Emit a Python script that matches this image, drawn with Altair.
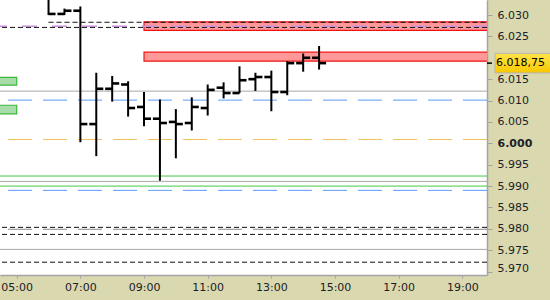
import altair as alt
import pandas as pd

# ---- data ----
bar_hours = [6.0, 6.5, 7.0, 7.5, 8.0, 8.5, 9.0, 9.5, 10.0, 10.5, 11.0, 11.5, 12.0, 12.5, 13.0, 13.5, 14.0, 14.5]
bar_open  = [6034.5, 6030.25, 6031.0, 6004.5, 6012.75, 6013.75, 6008.5, 6005.75, 6005.0, 6004.75, 6008.25, 6013.0, 6011.75, 6015.0, 6015.5, 6012.0, 6018.75, 6020.0]
bar_high  = [6035.0, 6031.5, 6032.0, 6016.5, 6015.75, 6014.5, 6012.0, 6010.25, 6008.0, 6010.75, 6013.75, 6014.25, 6018.0, 6016.5, 6017.0, 6019.25, 6021.0, 6022.75]
bar_low   = [6030.0, 6030.0, 6000.25, 5997.0, 6009.75, 6006.25, 6004.0, 5991.25, 5996.5, 6003.0, 6006.5, 6010.5, 6011.75, 6012.25, 6007.5, 6011.25, 6016.75, 6017.25]
bar_close = [6030.25, 6031.0, 6004.5, 6012.75, 6014.0, 6008.25, 6005.75, 6004.75, 6004.5, 6008.5, 6012.5, 6011.75, 6014.75, 6015.5, 6012.0, 6018.75, 6020.0, 6018.75]

last_price = [6018.75]

red_zone_low   = [6026.4, 6019.2]
red_zone_high  = [6028.4, 6021.3]
red_zone_start = [9.0, 9.0]
red_zone_end   = [21.0, 21.0]
green_zone_low   = [6013.6, 6006.9]
green_zone_high  = [6015.4, 6008.9]
green_zone_start = [3.0, 3.0]
green_zone_end   = [5.0, 5.0]

black_dash_full = [6027.1, 5980.35, 5978.7, 5972.2]
black_dash_partial = [6028.3]
black_dash_partial_start = [6.0]
black_dash_partial_end = [21.0]
lavender_dash = [6027.4]
gray_solid = [6012.2, 5991.1, 5975.2]
blue_dash = [6010.1, 5989.0]
orange_dash = [6000.9]
green_solid = [5992.35, 5990.0]
gray_dash = [5979.9]

x_ticks = [5, 7, 9, 11, 13, 15, 17, 19]
# 6.020 sits under the last-price tag in the reference, so it is not labelled
y_ticks = [5970, 5975, 5980, 5985, 5990, 5995, 6000, 6005, 6010, 6015, 6025, 6030]

X_DOMAIN = [4.4753, 19.775]
Y_DOMAIN = [5969.21, 6033.51]

FONT = "DejaVu Sans"
LABEL_COLOR = "#1c2028"
AXIS_GRAY = "#a4a4a4"

xscale = alt.Scale(domain=X_DOMAIN, nice=False, zero=False)
yscale = alt.Scale(domain=Y_DOMAIN, nice=False, zero=False)

x_axis = alt.Axis(
    orient="bottom", values=x_ticks, title=None, grid=False,
    labelExpr="(datum.value < 10 ? '0' : '') + datum.value + ':00'",
    tickSize=3, tickColor=AXIS_GRAY, domainColor=AXIS_GRAY, domainWidth=1.5,
    labelFont=FONT, labelFontSize=11, labelColor=LABEL_COLOR, labelPadding=3,
    labelFlush=False, labelOverlap=False,
)
y_axis = alt.Axis(
    orient="right", values=y_ticks, title=None, grid=False,
    labelExpr="replace(format(datum.value, ','), ',', '.')",
    tickSize=5, tickColor=AXIS_GRAY, domainColor=AXIS_GRAY, domainWidth=1.5,
    labelFont=FONT, labelFontSize=11, labelColor=LABEL_COLOR, labelPadding=5,
    labelFlush=5, labelFlushOffset=2, labelOverlap=False,
    labelFontWeight={"condition": {"test": "datum.value == 6000", "value": "bold"}, "value": "normal"},
)

def X(field):
    return alt.X(field, type="quantitative", scale=xscale, axis=x_axis)

def Y(field):
    return alt.Y(field, type="quantitative", scale=yscale, axis=y_axis)

bars = pd.DataFrame({"t": bar_hours, "o": bar_open, "h": bar_high, "l": bar_low, "c": bar_close})

red_zones = pd.DataFrame({"lo": red_zone_low, "hi": red_zone_high, "start": red_zone_start, "end": red_zone_end})
green_zones = pd.DataFrame({"lo": green_zone_low, "hi": green_zone_high, "start": green_zone_start, "end": green_zone_end})

red_layer = alt.Chart(red_zones).mark_rect(
    fill="#ff9999", stroke="#f01414", strokeWidth=1.2, clip=True
).encode(x=X("start"), x2="end", y=Y("lo"), y2="hi")

green_layer = alt.Chart(green_zones).mark_rect(
    fill="#a8dca8", stroke="#3cb83c", strokeWidth=1.2, clip=True
).encode(x=X("start"), x2="end", y=Y("lo"), y2="hi")

def hline(values, color, dash=None, width=1.0):
    kw = dict(color=color, strokeWidth=width, clip=True)
    if dash:
        kw["strokeDash"] = dash
    return alt.Chart(pd.DataFrame({"v": values})).mark_rule(**kw).encode(y=Y("v"))

partial = alt.Chart(pd.DataFrame({"v": black_dash_partial, "start": black_dash_partial_start,
                                  "end": black_dash_partial_end})).mark_rule(
    color="#111111", strokeWidth=1, strokeDash=[5, 3], clip=True
).encode(x=X("start"), x2="end", y=Y("v"))

lines = [
    hline(gray_solid, "#a8a8a8"),
    hline(green_solid, "#44c844"),
    hline(blue_dash, "#5a9aff", [24, 11]),
    hline(orange_dash, "#f2c060", [24, 11]),
    hline(gray_dash, "#8c8c8c", [24, 11]),
    hline(black_dash_full, "#111111", [5, 3]),
    partial,
    hline(lavender_dash, "#c890d8", [15, 15], 1.5),
]

TICK_HOURS = 0.22  # reach of the open/close ticks from the bar centre, in hours

base = alt.Chart(bars).transform_calculate(
    ox=f"datum.t - {TICK_HOURS}", cx=f"datum.t + {TICK_HOURS}"
)
wick = base.mark_rule(color="black", strokeWidth=2, clip=True).encode(
    x=X("t"), y=Y("l"), y2="h")
open_tick = base.mark_rule(color="black", strokeWidth=2.6, strokeCap="butt", clip=True).encode(
    x=X("ox:Q"), x2="t", y=Y("o"))
close_tick = base.mark_rule(color="black", strokeWidth=2.6, strokeCap="butt", clip=True).encode(
    x=X("t"), x2="cx:Q", y=Y("c"))

tag_df = pd.DataFrame({"v": last_price})
tag_rect = alt.Chart(tag_df).transform_calculate(
    top="datum.v + 2.3", bot="datum.v - 2.3"
).mark_rect(
    fill=alt.LinearGradient(gradient="linear", x1=0, y1=0, x2=0, y2=1,
                            stops=[alt.GradientStop(color="#ffe44a", offset=0),
                                   alt.GradientStop(color="#f7c800", offset=1)]),
    stroke="#b4b4b4", strokeWidth=1, clip=False
).encode(x=alt.value(495), x2=alt.value(556), y=Y("top:Q"), y2="bot:Q")
tag_text = alt.Chart(tag_df).transform_calculate(
    lab="replace(replace(replace(format(datum.v, ',.2f'), ',', '_'), '.', ','), '_', '.')"
).mark_text(
    align="left", baseline="middle", font=FONT, fontSize=11, color="black", clip=False
).encode(x=alt.value(496), y=Y("v"), text="lab:N")
tag_mark = alt.Chart(tag_df).mark_rule(color="black", strokeWidth=1.5, clip=False).encode(
    x=alt.value(487), x2=alt.value(492), y=Y("v"))

chart = alt.layer(
    red_layer, green_layer, *lines, wick, open_tick, close_tick, tag_rect, tag_text, tag_mark
).properties(
    width=487, height=275,
    padding={"left": 0, "top": 0, "right": 63, "bottom": 25},
    autosize=alt.AutoSizeParams(type="none"),
    background="#dad8ae",
).configure_view(fill="white", stroke=None)

chart.save("out.html", embed_options={"renderer": "svg", "actions": False})
